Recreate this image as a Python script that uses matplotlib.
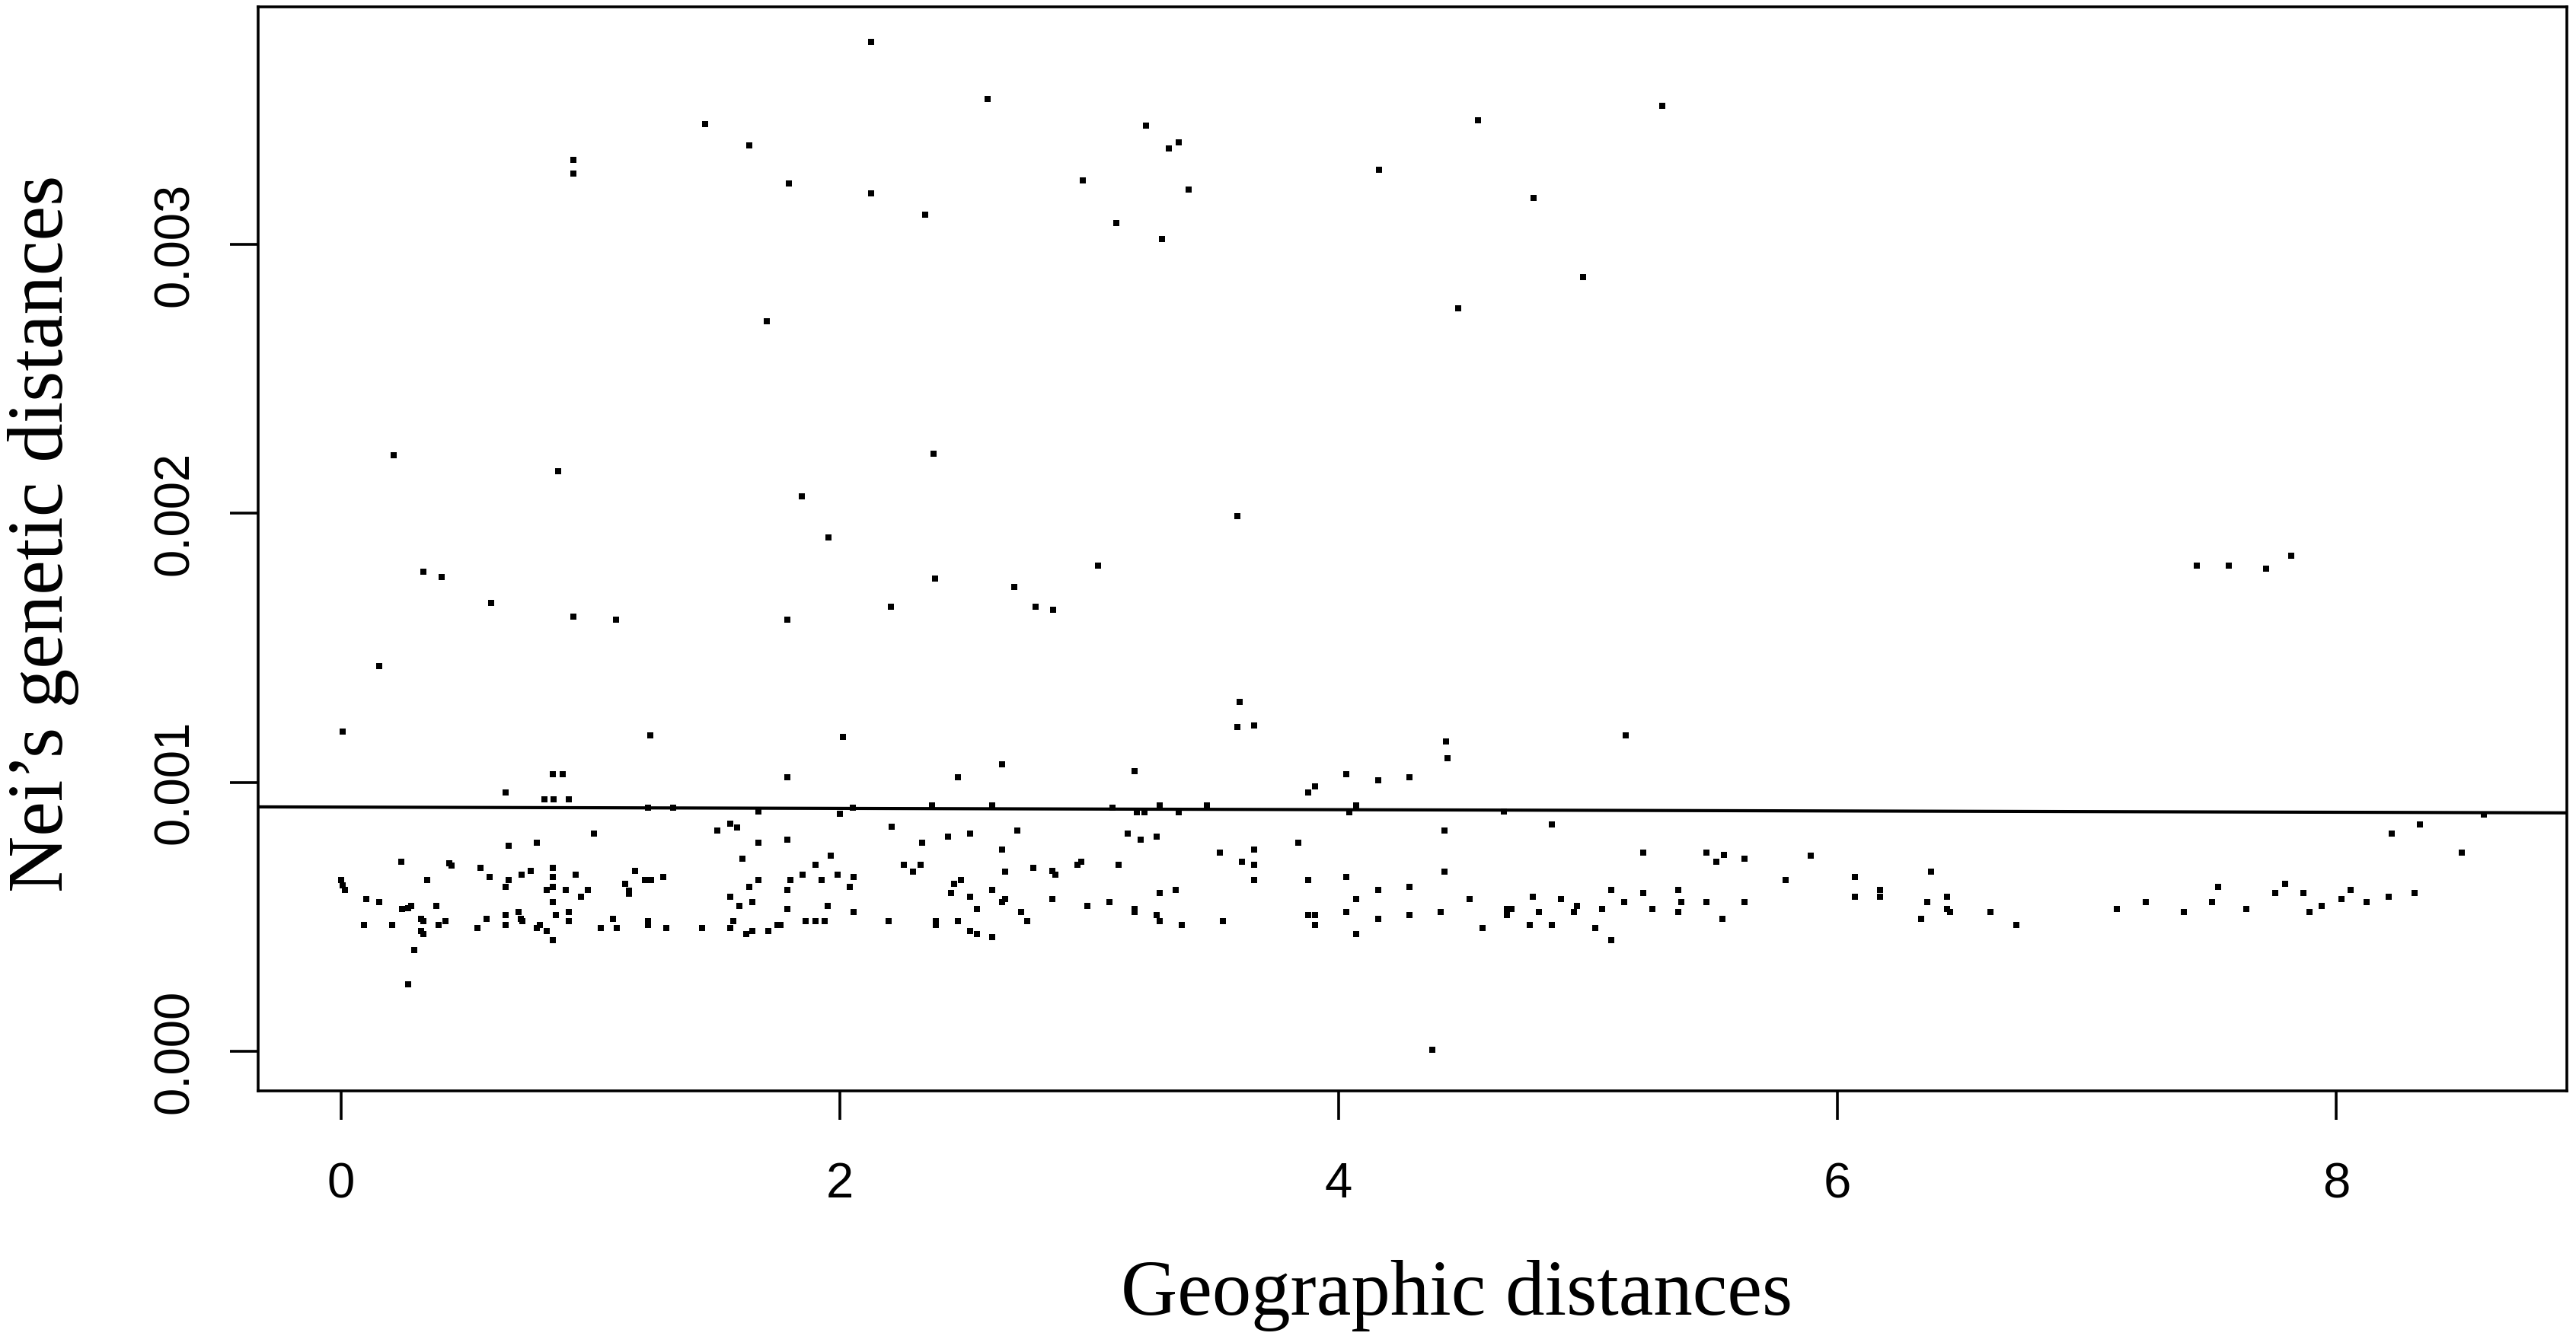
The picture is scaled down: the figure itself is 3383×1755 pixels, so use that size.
import numpy as np
import matplotlib
matplotlib.use("Agg")
import matplotlib.pyplot as plt

# geographic distance of each pair
geo_dist = [
    0.849, 0.887, 0.659, 0.815, 0.851, 0.912, 1.230, 1.330, 1.014, 0.673, 0.786, 0.242, 0.433, 0.443,
    0.559, 0.345, 0.000, 0.005, 0.015, 0.596, 0.724, 0.760, 0.849, 0.849, 0.849, 0.673, 0.659, 0.939,
    0.824, 0.900, 0.989, 0.963, 1.179, 1.138, 1.155, 1.155, 1.218, 1.243, 1.292, 0.102, 0.153, 0.245,
    0.270, 0.280, 0.382, 0.849, 0.862, 0.913, 0.913, 0.090, 0.204, 0.321, 0.331, 0.321, 0.331, 0.392,
    0.418, 0.545, 0.584, 0.659, 0.659, 0.710, 0.719, 0.726, 0.785, 0.798, 0.824, 0.849, 1.040, 1.091,
    1.104, 1.230, 1.230, 1.305, 0.294, 0.268,
    1.789, 2.650, 2.472, 1.674, 2.001, 2.052, 2.370, 2.612, 1.509, 1.559, 1.588, 1.674, 1.789, 1.610,
    2.206, 2.331, 2.433, 2.523, 2.711, 2.650, 1.964, 1.901, 2.255, 2.293, 2.322, 2.663, 2.774, 1.674,
    1.801, 1.850, 1.926, 1.990, 2.054, 1.636, 1.789, 2.041, 1.559, 1.597, 1.648, 1.789, 1.952, 2.054,
    2.458, 2.484, 2.446, 2.523, 2.612, 2.650, 2.663, 2.548, 2.726, 2.752, 1.447, 1.559, 1.572, 1.623,
    1.649, 1.712, 1.748, 1.763, 1.863, 1.901, 1.940, 2.194, 2.385, 2.385, 2.472, 2.523, 2.548, 2.612,
    3.183, 4.029, 4.158, 3.878, 3.904, 3.093, 3.190, 3.220, 3.282, 3.359, 3.472, 4.043, 4.069, 3.154,
    3.205, 3.270, 3.839, 3.523, 3.611, 3.662, 3.662, 3.662, 2.852, 2.864, 2.953, 2.968, 3.117, 3.878,
    4.029, 4.158, 3.282, 3.346, 2.852, 2.991, 3.080, 3.180, 3.180, 3.270, 3.282, 3.371, 3.536, 3.878,
    3.904, 3.904, 4.029, 4.069, 4.158, 4.069,
    4.435, 4.285, 4.662, 4.854, 4.423, 4.423, 5.221, 5.476, 5.513, 4.285, 4.285, 4.410, 4.525, 4.576,
    4.676, 4.693, 4.676, 4.778, 4.803, 4.765, 4.854, 4.892, 4.956, 4.943, 5.029, 5.057, 5.094, 5.094,
    5.144, 5.221, 5.259, 5.361, 5.374, 5.361, 5.476, 5.539,
    5.544, 5.627, 5.627, 5.791, 5.893, 6.071, 6.071, 6.172, 6.172, 6.374, 6.438, 6.361, 6.336, 6.438,
    6.451, 6.614, 6.716,
    7.121, 7.236, 7.388, 7.501, 7.527, 7.641, 7.756, 7.794, 7.868, 7.893, 7.943, 8.021, 8.059, 8.122,
    8.211, 8.313, 8.224, 8.337, 8.503, 8.592,
    0.007, 0.152, 0.211, 0.330, 0.402, 0.600, 0.871, 0.930, 0.930, 0.930, 1.102, 1.240, 1.458, 1.636,
    1.708, 1.794, 1.788, 1.847, 1.953, 2.012, 2.124, 2.124, 2.203, 2.342, 2.375, 2.381, 2.592, 2.698,
    2.784, 2.856, 2.975, 3.034, 3.107, 3.226, 3.292, 3.318, 3.358, 3.397, 3.595, 3.602, 3.595, 3.661,
    4.162, 4.430, 4.479, 4.558, 4.782, 4.980, 5.152, 5.297, 7.440, 7.570, 7.720, 7.820, 4.374,
]

# Nei's genetic distance of each pair, in units of 1e-3
nei_e3 = [
    1.030, 1.030, 0.961, 0.938, 0.938, 0.938, 0.905, 0.905, 0.810, 0.763, 0.775, 0.705, 0.700, 0.692,
    0.681, 0.636, 0.636, 0.617, 0.600, 0.647, 0.658, 0.670, 0.682, 0.647, 0.612, 0.636, 0.612, 0.658,
    0.600, 0.600, 0.600, 0.576, 0.671, 0.623, 0.597, 0.585, 0.636, 0.636, 0.647, 0.565, 0.554, 0.530,
    0.532, 0.541, 0.541, 0.554, 0.507, 0.518, 0.483, 0.471, 0.471, 0.494, 0.483, 0.447, 0.435, 0.471,
    0.483, 0.459, 0.494, 0.507, 0.471, 0.518, 0.494, 0.483, 0.459, 0.471, 0.447, 0.412, 0.459, 0.494,
    0.459, 0.483, 0.471, 0.459, 0.377, 0.250,
    1.019, 1.066, 1.019, 0.893, 0.882, 0.905, 0.913, 0.913, 0.822, 0.846, 0.833, 0.775, 0.786, 0.716,
    0.834, 0.775, 0.799, 0.810, 0.822, 0.751, 0.728, 0.693, 0.693, 0.669, 0.693, 0.669, 0.681, 0.636,
    0.636, 0.658, 0.636, 0.658, 0.647, 0.612, 0.600, 0.612, 0.576, 0.541, 0.554, 0.530, 0.541, 0.518,
    0.623, 0.636, 0.589, 0.576, 0.600, 0.554, 0.565, 0.530, 0.518, 0.483, 0.459, 0.459, 0.483, 0.435,
    0.447, 0.447, 0.471, 0.471, 0.483, 0.483, 0.483, 0.483, 0.483, 0.471, 0.483, 0.447, 0.435, 0.425,
    1.043, 1.030, 1.007, 0.961, 0.984, 0.905, 0.889, 0.889, 0.913, 0.889, 0.913, 0.889, 0.913, 0.810,
    0.786, 0.799, 0.775, 0.740, 0.704, 0.751, 0.693, 0.636, 0.671, 0.658, 0.693, 0.704, 0.693, 0.636,
    0.647, 0.600, 0.589, 0.600, 0.565, 0.541, 0.554, 0.530, 0.518, 0.507, 0.483, 0.471, 0.483, 0.507,
    0.507, 0.471, 0.518, 0.565, 0.494, 0.435,
    1.090, 1.019, 0.891, 0.844, 0.822, 0.669, 0.740, 0.740, 0.705, 0.612, 0.507, 0.518, 0.565, 0.459,
    0.530, 0.530, 0.507, 0.576, 0.518, 0.471, 0.471, 0.565, 0.541, 0.518, 0.459, 0.530, 0.600, 0.412,
    0.554, 0.589, 0.530, 0.600, 0.554, 0.518, 0.554, 0.494,
    0.731, 0.716, 0.554, 0.636, 0.728, 0.647, 0.576, 0.600, 0.576, 0.669, 0.576, 0.554, 0.494, 0.530,
    0.518, 0.518, 0.471,
    0.530, 0.554, 0.518, 0.554, 0.612, 0.530, 0.589, 0.623, 0.589, 0.518, 0.541, 0.565, 0.600, 0.554,
    0.576, 0.589, 0.810, 0.844, 0.740, 0.880,
    1.188, 1.433, 2.217, 1.782, 1.764, 1.666, 2.156, 3.313, 3.264, 1.617, 1.604, 1.176, 3.448, 3.368,
    2.713, 3.227, 1.604, 2.064, 1.911, 1.170, 3.754, 3.190, 1.653, 3.111, 2.223, 1.757, 3.540, 1.727,
    1.653, 1.641, 3.239, 1.806, 3.080, 3.441, 3.019, 3.356, 3.380, 3.203, 1.990, 1.298, 1.206, 1.212,
    3.276, 1.151, 2.762, 3.460, 3.172, 2.878, 1.176, 3.515, 1.806, 1.806, 1.794, 1.843, 0.005,
]

# fitted regression line
fit_intercept = 0.000908
fit_slope = -2.4e-6

x_ticks = [0, 2, 4, 6, 8]
y_ticks = [0.0, 0.001, 0.002, 0.003]
y_tick_labels = ["0.000", "0.001", "0.002", "0.003"]

W, H = 3383, 1755
fig = plt.figure(figsize=(W / 100, H / 100), dpi=100)
ax = fig.add_axes([339 / W, 1 - 1433 / H, (3371 - 339) / W, (1433 - 9) / H])

ax.scatter(geo_dist, np.array(nei_e3) * 1e-3, marker="s", s=26, c="black", linewidths=0, zorder=3)
ax.axline((0, fit_intercept), slope=fit_slope, color="black", lw=3.0, zorder=2)

ax.set_xlim(-0.333, 8.925)
ax.set_ylim(-0.000147, 0.003883)

ax.set_xticks(x_ticks)
ax.set_xticklabels([str(t) for t in x_ticks], family="Liberation Sans", fontsize=47)
ax.set_yticks(y_ticks)
ax.set_yticklabels(y_tick_labels, family="Liberation Sans", fontsize=47, rotation=90, va="center")

for sp in ax.spines.values():
    sp.set_linewidth(2.6)
ax.tick_params(length=27, width=2.6, direction="out")
ax.tick_params(axis="x", pad=40)
ax.tick_params(axis="y", pad=30)

fig.text(1913 / W, 1 - 1727 / H, "Geographic distances", family="Liberation Serif",
         fontsize=74, ha="center", va="baseline")
fig.text(57 / W, 1 - 701 / H, "Nei\u2019s genetic distances", family="Liberation Serif",
         fontsize=74, rotation=90, ha="center", va="center")

fig.savefig("out.png", dpi=100)
